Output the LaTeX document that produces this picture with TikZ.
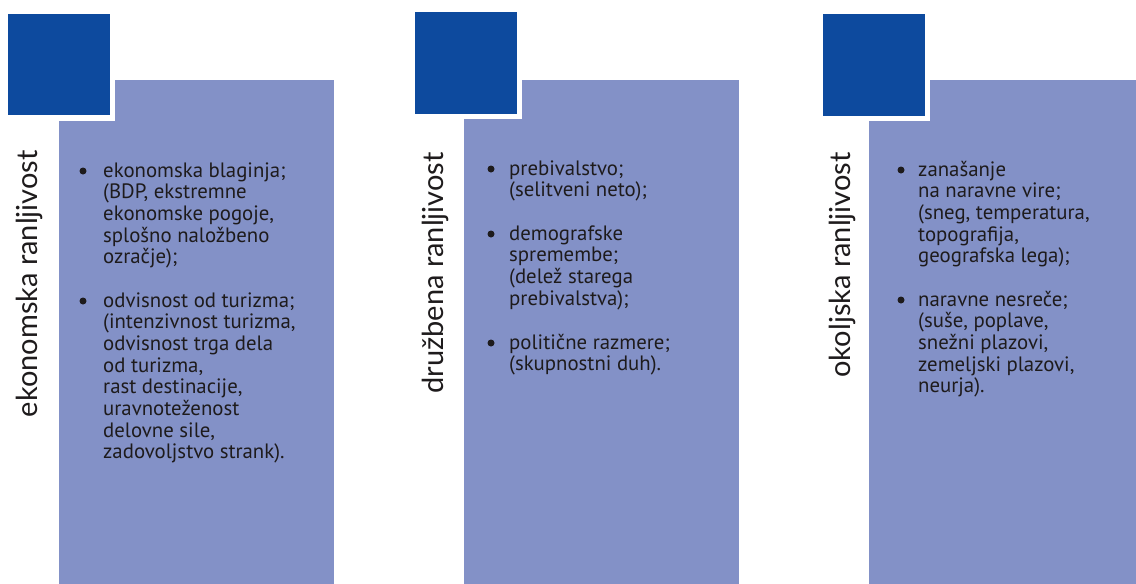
\documentclass[tikz,border=0pt]{standalone}
\usepackage{fontspec}
\setmainfont{PT Sans}
\newfontfamily\labelfont{Lato}
\definecolor{darkblue}{RGB}{13,74,158}
\definecolor{lightblue}{RGB}{131,145,199}
\definecolor{txt}{RGB}{30,27,28}
\newcommand\vlines[1]{\vtop{\halign{##\hfil\cr#1\crcr}}}
\tikzset{
  panel/.style={fill=lightblue, draw=none},
  gap/.style={fill=white, draw=none},
  sq/.style={fill=darkblue, draw=none},
  vlabel/.style={rotate=90, anchor=base east, inner sep=0, text=txt,
    font=\labelfont\fontsize{29}{32}\selectfont},
  item/.style={anchor=base west, inner sep=0, text=txt,
    font=\fontsize{20.8}{21.7}\selectfont},
  dot/.style={circle, fill=txt, inner sep=0, minimum size=7pt}
}
\begin{document}
\begin{tikzpicture}[x=1pt, y=-1pt]
\useasboundingbox (0,0) rectangle (1136,584);
% column 1
\fill[panel] (59,80) rectangle (334,584);
\fill[gap] (3,9) rectangle (115,121);
\fill[sq] (8,14) rectangle (110,115);
% column 2
\fill[panel] (464,80) rectangle (739,584);
\fill[gap] (410,7) rectangle (522,119);
\fill[sq] (415,12) rectangle (517,114);
% column 3
\fill[panel] (869,80) rectangle (1136,584);
\fill[gap] (818,9) rectangle (930,121);
\fill[sq] (823,14) rectangle (925,116);

% vertical labels
\node[vlabel] (l1) at (37.5,150) {ekonomska ranljivost};
\node[vlabel] (l2) at (443,152) {družbena ranljivost};
\node[vlabel] (l3) at (850,152) {okoljska ranljivost};

% column 1 items
\node[dot] (d11) at (83,171) {};
\node[item] (t11) at (103,177) {\vlines{ekonomska blaginja;\cr(BDP, ekstremne\cr ekonomske pogoje,\cr splošno naložbeno\cr ozračje);}};
\node[dot] (d12) at (83,301) {};
\node[item] (t12) at (103,307) {\vlines{odvisnost od turizma;\cr(intenzivnost turizma,\cr odvisnost trga dela\cr od turizma,\cr rast destinacije,\cr uravnoteženost\cr delovne sile,\cr zadovoljstvo strank).}};

% column 2 items
\node[dot] (d21) at (491,169) {};
\node[item] (t21) at (509,175) {\vlines{prebivalstvo;\cr(selitveni neto);}};
\node[dot] (d22) at (491,234) {};
\node[item] (t22) at (509,240) {\vlines{demografske\cr spremembe;\cr(delež starega\cr prebivalstva);}};
\node[dot] (d23) at (491,343) {};
\node[item] (t23) at (509,349) {\vlines{politične razmere;\cr(skupnostni duh).}};

% column 3 items
\node[dot] (d31) at (901,170) {};
\node[item] (t31) at (918,176) {\vlines{zanašanje\cr na naravne vire;\cr(sneg, temperatura,\cr topografija,\cr geografska lega);}};
\node[dot] (d32) at (901,300) {};
\node[item] (t32) at (918,306) {\vlines{naravne nesreče;\cr(suše, poplave,\cr snežni plazovi,\cr zemeljski plazovi,\cr neurja).}};
\end{tikzpicture}
\end{document}
